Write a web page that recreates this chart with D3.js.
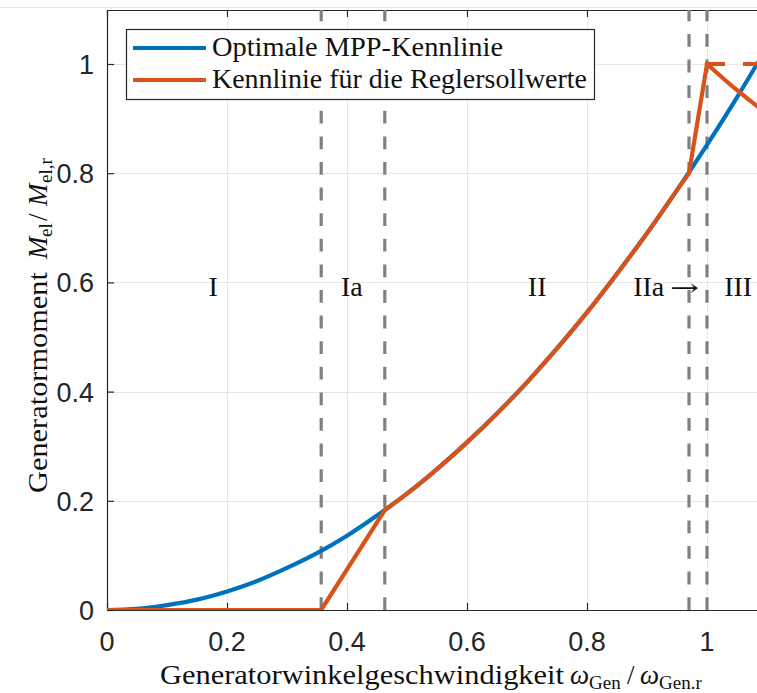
<!DOCTYPE html>
<html>
<head>
<meta charset="utf-8">
<script src="https://cdn.jsdelivr.net/npm/d3@7"></script>
<style>
  html, body { margin: 0; padding: 0; background: #fff; }
  svg { display: block; }
</style>
</head>
<body>
<svg id="chart" width="757" height="693"></svg>
<script>
// Normalised generator speed and torque (MPP characteristic, M ~ omega^2)
const mppOmega = [0, 0.05, 0.1, 0.15, 0.2, 0.25, 0.3, 0.35, 0.4, 0.45, 0.5, 0.55,
                  0.6, 0.65, 0.7, 0.75, 0.8, 0.85, 0.9, 0.95, 1.0, 1.05, 1.1];
const mppTorque = [0, 0.002, 0.009, 0.019, 0.034, 0.053, 0.077, 0.104, 0.136, 0.173, 0.213, 0.258,
                   0.307, 0.360, 0.417, 0.479, 0.545, 0.616, 0.690, 0.769, 0.852, 0.939, 1.031];

// Controller set-point characteristic, in three pieces:
// zero torque + linear ramp (I, Ia), MPP tracking (II), steep ramp + constant power (IIa, III)
const ctrlRampOmega  = [0, 0.357, 0.463];
const ctrlRampTorque = [0, 0, 0.183];
const ctrlMppOmega   = [0.463, 0.5, 0.55, 0.6, 0.65, 0.7, 0.75, 0.8, 0.85, 0.9, 0.95, 0.97];
const ctrlMppTorque  = [0.183, 0.213, 0.258, 0.307, 0.360, 0.417, 0.479, 0.545, 0.616, 0.690, 0.769, 0.80];
const ctrlUpperOmega  = [0.97, 1.0, 1.05, 1.1];
const ctrlUpperTorque = [0.80, 1.0, 0.952, 0.909];

// Rated-torque limit (dashed)
const limitOmega  = [1.0, 1.1];
const limitTorque = [1.0, 1.0];

// Region boundaries and region names
const boundaries = [0.357, 0.463, 0.970, 1.0];
const regionNames = ["I", "Ia", "II", "IIa", "III"];
const regionOmega = [0.177, 0.408, 0.717, 0.877, 1.052];
const regionAnchor = ["middle", "middle", "middle", "start", "middle"];
const regionTorque = 0.6;

const xTicks = [0, 0.2, 0.4, 0.6, 0.8, 1];
const xTickLabels = ["0", "0.2", "0.4", "0.6", "0.8", "1"];
const yTicks = [0, 0.2, 0.4, 0.6, 0.8, 1];
const yTickLabels = ["0", "0.2", "0.4", "0.6", "0.8", "1"];

const legendLabels = ["Optimale MPP-Kennlinie", "Kennlinie f\u00fcr die Reglersollwerte"];
const colors = ["#0072BD", "#D95319"];

const svg = d3.select("#chart");
const W = 757, H = 693;
const plotLeft = 107, plotTop = 10, plotBottom = 610;

const x = d3.scaleLinear().domain([0, 1.1]).range([plotLeft, plotLeft + 660]);
const y = d3.scaleLinear().domain([0, 1.1]).range([plotBottom, plotBottom - 1.1 * 546]);

svg.append("rect").attr("width", W).attr("height", H).attr("fill", "#fff");

// faint figure edge near the top
svg.append("line").attr("x1", 0).attr("x2", W).attr("y1", 7.5).attr("y2", 7.5)
  .attr("stroke", "#e4e4e4").attr("stroke-width", 1);

svg.append("defs").append("clipPath").attr("id", "plotClip")
  .append("rect").attr("x", plotLeft).attr("y", plotTop).attr("width", 700).attr("height", plotBottom - plotTop);

// grid
const grid = svg.append("g");
grid.selectAll("line.gx").data(xTicks.filter(d => d > 0)).join("line")
  .attr("x1", d => Math.round(x(d)) + 0.5).attr("x2", d => Math.round(x(d)) + 0.5)
  .attr("y1", plotTop).attr("y2", plotBottom)
  .attr("stroke", "#e6e6e6").attr("stroke-width", 1);
grid.selectAll("line.gy").data(yTicks.filter(d => d > 0)).join("line")
  .attr("y1", d => Math.round(y(d)) + 0.5).attr("y2", d => Math.round(y(d)) + 0.5)
  .attr("x1", plotLeft).attr("x2", W)
  .attr("stroke", "#e6e6e6").attr("stroke-width", 1);

// axes with inward ticks
const axisColor = "#262626";
const xAxisB = d3.axisBottom(x).tickValues(xTicks).tickSizeInner(-7).tickSizeOuter(0).tickFormat("");
const xAxisT = d3.axisTop(x).tickValues(xTicks).tickSizeInner(-7).tickSizeOuter(0).tickFormat("");
const yAxisL = d3.axisLeft(y).tickValues(yTicks).tickSizeInner(-7).tickSizeOuter(0).tickFormat("");

function styleAxis(g) {
  g.selectAll("path").attr("stroke", axisColor).attr("stroke-width", 1.2);
  g.selectAll("line").attr("stroke", axisColor).attr("stroke-width", 1.2);
}
svg.append("g").attr("transform", `translate(0,${plotBottom})`).call(xAxisB).call(styleAxis);
svg.append("g").attr("transform", `translate(0,${plotTop})`).call(xAxisT).call(styleAxis);
svg.append("g").attr("transform", `translate(${plotLeft},0)`).call(yAxisL).call(styleAxis);

// tick labels
const tickFont = "'Liberation Sans', Arial, sans-serif";
svg.append("g").selectAll("text").data(xTicks).join("text")
  .attr("x", d => x(d)).attr("y", 651)
  .attr("text-anchor", "middle")
  .attr("font-family", tickFont).attr("font-size", 27).attr("fill", axisColor)
  .text((d, i) => xTickLabels[i]);
svg.append("g").selectAll("text").data(yTicks).join("text")
  .attr("x", 94).attr("y", d => y(d) + 10)
  .attr("text-anchor", "end")
  .attr("font-family", tickFont).attr("font-size", 27).attr("fill", axisColor)
  .text((d, i) => yTickLabels[i]);

// plot content
const plot = svg.append("g").attr("clip-path", "url(#plotClip)");
const pts = (ws, ms) => ws.map((w, i) => [w, ms[i]]);
const straight = d3.line().x(d => x(d[0])).y(d => y(d[1]));
const smooth = d3.line().x(d => x(d[0])).y(d => y(d[1])).curve(d3.curveMonotoneX);

// region boundaries (drawn upward from the omega axis)
plot.selectAll("line.bd").data(boundaries).join("line")
  .attr("x1", d => x(d)).attr("x2", d => x(d))
  .attr("y1", y(0)).attr("y2", y(1.1))
  .attr("stroke", "#808080").attr("stroke-width", 3.2)
  .attr("stroke-dasharray", "12.8,12.8");

plot.append("path")
  .attr("d", smooth(pts(mppOmega, mppTorque)))
  .attr("fill", "none").attr("stroke", colors[0]).attr("stroke-width", 4.2)
  .attr("stroke-linejoin", "round");

plot.append("path")
  .attr("d", straight(pts(limitOmega, limitTorque)))
  .attr("fill", "none").attr("stroke", colors[1]).attr("stroke-width", 4.2)
  .attr("stroke-dasharray", "18,18");

const ctrl = plot.append("g").attr("fill", "none").attr("stroke", colors[1])
  .attr("stroke-width", 4.2).attr("stroke-linejoin", "round").attr("stroke-linecap", "round");
ctrl.append("path").attr("d", straight(pts(ctrlRampOmega, ctrlRampTorque)));
ctrl.append("path").attr("d", smooth(pts(ctrlMppOmega, ctrlMppTorque)));
ctrl.append("path").attr("d", straight(pts(ctrlUpperOmega.slice(0, 2), ctrlUpperTorque.slice(0, 2))));
ctrl.append("path").attr("d", smooth(pts(ctrlUpperOmega.slice(1), ctrlUpperTorque.slice(1))));

// region names
const serif = "'Liberation Serif', 'Times New Roman', serif";
const regions = svg.append("g").selectAll("text").data(regionNames).join("text")
  .attr("x", (d, i) => x(regionOmega[i]))
  .attr("y", y(regionTorque) + 14)
  .attr("text-anchor", (d, i) => regionAnchor[i])
  .attr("font-family", serif).attr("font-size", 28).attr("fill", "#111")
  .text(d => d);
// arrow after "IIa" pointing into region III
regions.filter((d, i) => i === 3).append("tspan")
  .attr("x", 670).attr("textLength", 29).attr("lengthAdjust", "spacingAndGlyphs")
  .attr("font-family", "'DejaVu Serif', serif").attr("font-size", 24)
  .text("\u2192");

// legend
const lg = svg.append("g");
lg.append("rect").attr("x", 126.5).attr("y", 29.5).attr("width", 468).attr("height", 70)
  .attr("fill", "#fff").attr("stroke", axisColor).attr("stroke-width", 1.2);
const legendY = [48, 80];
const legendLen = [291, 375];
legendLabels.forEach((lab, i) => {
  lg.append("line").attr("x1", 133).attr("x2", 206).attr("y1", legendY[i]).attr("y2", legendY[i])
    .attr("stroke", colors[i]).attr("stroke-width", 4.2);
  lg.append("text").attr("x", 212).attr("y", legendY[i] + 8)
    .attr("font-family", serif).attr("font-size", 27).attr("fill", "#111")
    .attr("textLength", legendLen[i]).attr("lengthAdjust", "spacingAndGlyphs")
    .text(lab);
});

// x axis title: Generatorwinkelgeschwindigkeit ω_Gen / ω_Gen.r
const xl = svg.append("text").attr("y", 684)
  .attr("font-family", serif).attr("font-size", 27).attr("fill", "#111");
xl.append("tspan").attr("x", 160).attr("textLength", 404).attr("lengthAdjust", "spacingAndGlyphs")
  .text("Generatorwinkelgeschwindigkeit");
xl.append("tspan").attr("x", 570).attr("font-style", "italic").text("\u03c9");
xl.append("tspan").attr("x", 589).attr("dy", 5).attr("font-size", 19).text("Gen");
xl.append("tspan").attr("x", 627).attr("dy", -5).text("/");
xl.append("tspan").attr("x", 640).attr("font-style", "italic").text("\u03c9");
xl.append("tspan").attr("x", 659).attr("dy", 5).attr("font-size", 19).text("Gen.r");

// y axis title: Generatormoment M_el / M_el,r
const yl = svg.append("g").attr("transform", "translate(47,0) rotate(-90)")
  .append("text").attr("y", 0)
  .attr("font-family", serif).attr("font-size", 27).attr("fill", "#111");
yl.append("tspan").attr("x", -493).attr("textLength", 221).attr("lengthAdjust", "spacingAndGlyphs")
  .text("Generatormoment");
yl.append("tspan").attr("x", -259).attr("font-style", "italic").text("M");
yl.append("tspan").attr("x", -237).attr("dy", 5).attr("font-size", 19).text("el");
yl.append("tspan").attr("x", -221).attr("dy", -5).text("/");
yl.append("tspan").attr("x", -206).attr("font-style", "italic").text("M");
yl.append("tspan").attr("x", -183).attr("dy", 5).attr("font-size", 19).text("el,r");
</script>
</body>
</html>
